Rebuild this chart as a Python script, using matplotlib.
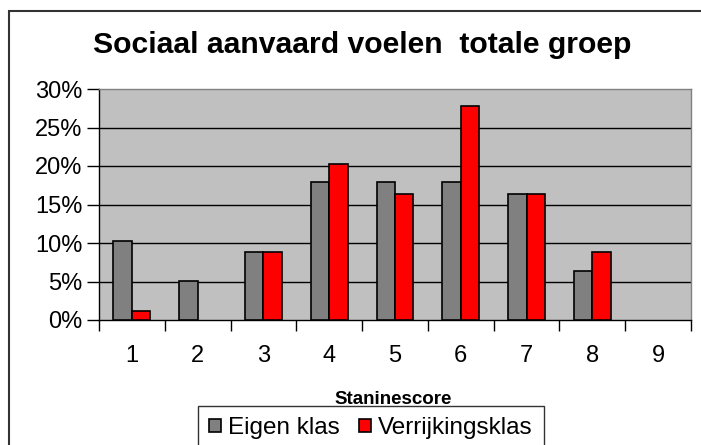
import matplotlib
matplotlib.use("Agg")
import matplotlib.pyplot as plt
import numpy as np
from matplotlib.patches import Rectangle

# ── Data ─────────────────────────────────────────────
stanines = ["1", "2", "3", "4", "5", "6", "7", "8", "9"]
eigen_klas = [10.3, 5.1, 8.8, 17.9, 17.9, 17.9, 16.4, 6.4, 0.0]
verrijkingsklas = [1.2, 0.0, 8.8, 20.3, 16.4, 27.8, 16.4, 8.8, 0.0]
y_ticks = [0, 5, 10, 15, 20, 25, 30]

plt.rcParams["font.family"] = ["Liberation Sans", "DejaVu Sans"]

W, H = 701, 445
fig = plt.figure(figsize=(W / 100, H / 100), dpi=100)
fig.patch.set_facecolor("white")

# outer chart border (right/bottom run off the picture)
fig.patches.append(Rectangle((9 / W, -0.2), 1.2, 1 - 11 / H + 0.2,
                             transform=fig.transFigure, fill=False,
                             edgecolor="#333333", linewidth=1.5))

ax = fig.add_axes([99 / W, 1 - 320 / H, (691 - 99) / W, (320 - 89) / H])
ax.set_facecolor("#C0C0C0")

x = np.arange(1, len(stanines) + 1)
bw = 0.28
mask_e = np.array(eigen_klas) > 0
mask_v = np.array(verrijkingsklas) > 0
ax.bar(x[mask_e] - bw / 2, np.array(eigen_klas)[mask_e], bw, color="#808080",
       edgecolor="black", linewidth=1.2, label="Eigen klas", zorder=3)
ax.bar(x[mask_v] + bw / 2, np.array(verrijkingsklas)[mask_v], bw, color="#FF0000",
       edgecolor="black", linewidth=1.2, label="Verrijkingsklas", zorder=3)

ax.set_xlim(0.5, len(stanines) + 0.5)
ax.set_ylim(0, 30)
ax.set_yticks(y_ticks)
ax.set_yticklabels([f"{t}%" for t in y_ticks], fontsize=17)
ax.set_xticks(x)
ax.set_xticklabels(stanines, fontsize=17)
ax.set_xticks(np.arange(0.5, len(stanines) + 1), minor=True)
ax.tick_params(axis="x", which="major", length=0, pad=18)
ax.tick_params(axis="x", which="minor", length=8, width=1, direction="out")
ax.tick_params(axis="y", length=9, width=1, direction="out", pad=3)

for t in y_ticks[1:-1]:
    ax.axhline(t, color="black", linewidth=1, zorder=1)

for s in ["top", "right"]:
    ax.spines[s].set_color("#808080")
    ax.spines[s].set_linewidth(1)
for s in ["left", "bottom"]:
    ax.spines[s].set_color("black")
    ax.spines[s].set_linewidth(1)

fig.text(362 / W, 1 - 45 / H, "Sociaal aanvaard voelen  totale groep",
         ha="center", va="center", fontsize=21.7, fontweight="bold")
fig.text(393 / W, 1 - 399 / H, "Staninescore", ha="center", va="center",
         fontsize=13.5, fontweight="bold")

leg = fig.legend(loc="upper left", bbox_to_anchor=(198 / W, 1 - 406 / H),
                 ncol=2, fontsize=17.5, frameon=True, fancybox=False,
                 handlelength=0.48, handleheight=0.48, handletextpad=0.3,
                 columnspacing=0.8, borderpad=0.45, borderaxespad=0)
leg.get_frame().set_edgecolor("black")
leg.get_frame().set_linewidth(1)

fig.savefig("out.png", dpi=100)
